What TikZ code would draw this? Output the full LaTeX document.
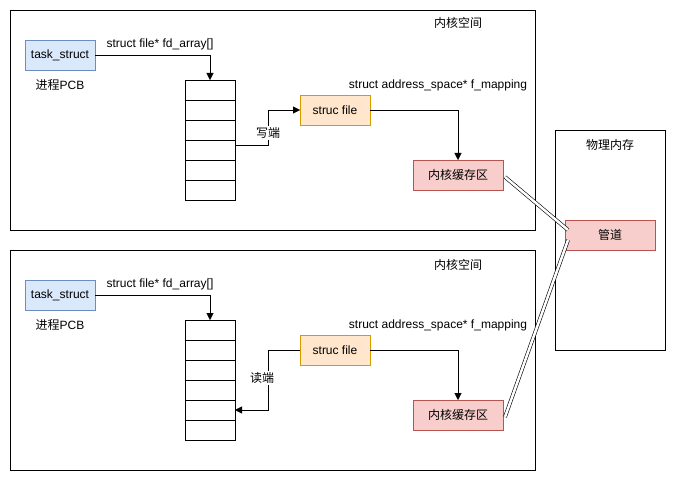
\documentclass[tikz,border=0pt]{standalone}
\usepackage{fontspec}
\setmainfont{Liberation Sans}
\newfontfamily\cjk{Noto Sans CJK SC}
\usetikzlibrary{arrows.meta,positioning}
\definecolor{bluefill}{HTML}{DAE8FC}
\definecolor{bluedraw}{HTML}{6C8EBF}
\definecolor{orfill}{HTML}{FFE6CC}
\definecolor{ordraw}{HTML}{D79B00}
\definecolor{redfill}{HTML}{F8CECC}
\definecolor{reddraw}{HTML}{B85450}
\tikzset{
  every node/.style={font=\fontsize{12}{14}\selectfont, inner sep=0pt, outer sep=0pt},
  tsbox/.style={draw=bluedraw, fill=bluefill, minimum width=70pt, minimum height=30pt},
  filebox/.style={draw=ordraw, fill=orfill, minimum width=70pt, minimum height=30pt},
  kbox/.style={draw=reddraw, fill=redfill, minimum width=90pt, minimum height=30pt},
  cell/.style={draw=black, minimum width=50pt, minimum height=20pt},
  arr/.style={draw=black, -{Triangle[length=7pt,width=7pt]}},
  link/.style={draw=black, double=white, double distance=2.5pt, line width=0.6pt},
  lbl/.style={fill=white, inner sep=1pt},
}
\begin{document}
\begin{tikzpicture}[x=1pt,y=-1pt]
\useasboundingbox (0,0) rectangle (676,481);
% outer regions
\node[draw, minimum width=525pt, minimum height=220pt, anchor=north west] (top) at (10,10) {};
\node[draw, minimum width=525pt, minimum height=220pt, anchor=north west] (bot) at (10,250) {};
\node[draw, minimum width=110pt, minimum height=220pt, anchor=north west] (phys) at (555,130) {};
\node (toplab) at (458,23) {\cjk 内核空间};
\node (botlab) at (458,265) {\cjk 内核空间};
\node (physlab) at (610,145) {\cjk 物理内存};
\node[kbox] (pipe) at (610,235) {\cjk 管道};

% top process
\node[tsbox] (ts1) at (60,55) {task\_struct};
\node (pcb1) at (60,85) {{\cjk 进程}PCB};
\foreach \i in {1,...,6} {
  \node[cell] (a1c\i) at (210,{70+20*\i}) {};
}
\node (fd1) at (160,44) {struct file* fd\_array[]};
\node[filebox] (sf1) at (335,110) {struc file};
\node (map1) at (438,85) {struct address\_space* f\_mapping};
\node[kbox] (kb1) at (458,175) {\cjk 内核缓存区};
\draw[arr] (ts1.east) -| (a1c1.north);
\coordinate (w1) at ([yshift=5pt]a1c4.east);
\draw[arr] (w1) -| (268,110) -- (sf1.west);
\node[lbl] (wlab) at (268,133) {\cjk 写端};
\draw[arr] (sf1.east) -| (kb1.north);

% bottom process
\node[tsbox] (ts2) at (60,295) {task\_struct};
\node (pcb2) at (60,325) {{\cjk 进程}PCB};
\foreach \i in {1,...,6} {
  \node[cell] (a2c\i) at (210,{310+20*\i}) {};
}
\node (fd2) at (160,284) {struct file* fd\_array[]};
\node[filebox] (sf2) at (335,350) {struc file};
\node (map2) at (438,325) {struct address\_space* f\_mapping};
\node[kbox] (kb2) at (458,415) {\cjk 内核缓存区};
\draw[arr] (ts2.east) -| (a2c1.north);
\draw[arr] (sf2.west) -| (268,410) -- (a2c5.east);
\node[lbl] (rlab) at (262,378) {\cjk 读端};
\draw[arr] (sf2.east) -| (kb2.north);

% links to pipe
\coordinate (p1) at ([xshift=3pt,yshift=5pt]pipe.west);
\coordinate (p2) at ([xshift=3pt,yshift=-5pt]pipe.west);
\draw[link] ([xshift=2pt,yshift=-2pt]kb1.east) -- (p1);
\draw[link] ([xshift=2pt,yshift=-2pt]kb2.east) -- (p2);
\end{tikzpicture}
\end{document}
